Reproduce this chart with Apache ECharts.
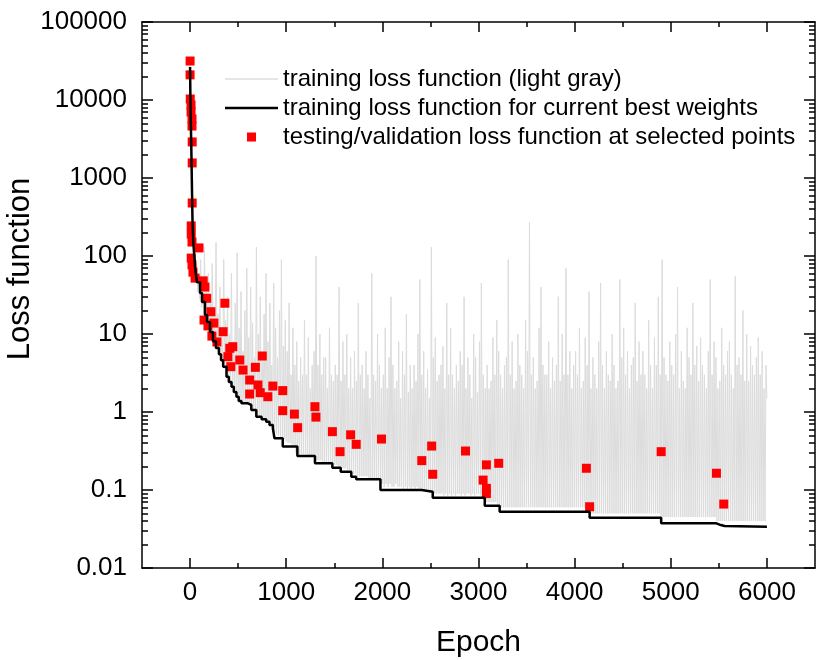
<!DOCTYPE html>
<html>
<head>
<meta charset="utf-8">
<script src="https://cdn.jsdelivr.net/npm/echarts@6/dist/echarts.min.js"></script>
<style>
html,body{margin:0;padding:0;background:#fff;}
#chart{width:817px;height:660px;}
</style>
</head>
<body>
<div id="chart"></div>
<script>
// ---------- data ----------
const xTickLabels = [0, 1000, 2000, 3000, 4000, 5000, 6000];
const xMinorTicks = [500, 1500, 2500, 3500, 4500, 5500];
const yTickLabels = [0.01, 0.1, 1, 10, 100, 1000, 10000, 100000];

// training loss (light gray), sampled every 10 epochs from 0 to 6000
const grayStep = 10;
const grayLoss = [
  30000, 8000, 1500, 300, 120, 90, 50, 70, 35, 60,
  28, 90, 22, 45, 18, 130, 15, 35, 13, 60,
  11, 25, 9.5, 80, 8, 20, 7, 150, 6.5, 18,
  5.8, 40, 5, 12, 4.2, 90, 3.6, 15, 3, 30,
  2.6, 10, 2.3, 60, 2.1, 8, 1.9, 25, 1.7, 110,
  1.5, 12, 1.4, 35, 1.35, 6, 1.3, 20, 1.3, 70,
  1.25, 9, 1.2, 40, 1.1, 14, 1.0, 5, 0.95, 130,
  0.9, 10, 0.88, 30, 0.85, 6, 0.8, 18, 0.8, 60,
  0.78, 8, 0.72, 25, 0.7, 4, 0.65, 45, 0.55, 12,
  0.52, 5, 0.5, 20, 0.48, 90, 0.46, 7, 0.45, 15,
  0.42, 6, 0.4, 25, 0.4, 3, 0.38, 12, 0.38, 4,
  0.3, 8, 0.3, 2.5, 0.29, 5, 0.29, 3, 0.29, 15,
  0.29, 3, 0.28, 9, 0.28, 2, 0.28, 4, 0.28, 6,
  0.25, 100, 0.24, 4, 0.24, 10, 0.24, 3, 0.23, 5,
  0.23, 5, 0.23, 2, 0.23, 12, 0.22, 3, 0.22, 2.5,
  0.21, 4, 0.21, 3, 0.2, 40, 0.2, 2.5, 0.19, 8,
  0.19, 3, 0.19, 10, 0.18, 2, 0.18, 5, 0.17, 2,
  0.16, 6, 0.16, 2.5, 0.15, 25, 0.15, 3, 0.15, 4,
  0.15, 2, 0.15, 6, 0.15, 3, 0.14, 1.5, 0.14, 60,
  0.14, 3, 0.14, 2.5, 0.14, 10, 0.14, 4, 0.14, 2,
  0.12, 3, 0.11, 12, 0.12, 2, 0.11, 5, 0.12, 30,
  0.11, 4, 0.11, 2, 0.12, 2.5, 0.11, 8, 0.11, 1.5,
  0.11, 6, 0.1, 3, 0.11, 18, 0.1, 1.8, 0.11, 4,
  0.1, 2, 0.11, 4, 0.1, 2.5, 0.11, 10, 0.1, 50,
  0.1, 3, 0.1, 6, 0.1, 2, 0.1, 3.5, 0.1, 1.5,
  0.1, 130, 0.09, 5, 0.09, 9, 0.09, 2.5, 0.09, 3,
  0.09, 4, 0.09, 7, 0.085, 2, 0.09, 25, 0.085, 3,
  0.09, 12, 0.085, 3, 0.09, 2, 0.085, 4, 0.09, 2.5,
  0.09, 6, 0.085, 4, 0.09, 30, 0.085, 2, 0.09, 5,
  0.09, 3, 0.085, 1.5, 0.09, 10, 0.085, 5, 0.09, 1.8,
  0.09, 8, 0.085, 45, 0.085, 3, 0.08, 2, 0.07, 4,
  0.07, 2, 0.07, 2.5, 0.07, 9, 0.07, 3, 0.07, 15,
  0.065, 6, 0.06, 3, 0.06, 2, 0.06, 4, 0.06, 5,
  0.06, 90, 0.06, 3, 0.06, 8, 0.06, 2, 0.06, 2.5,
  0.06, 10, 0.06, 4, 0.06, 3, 0.06, 2, 0.06, 15,
  0.06, 6, 0.06, 270, 0.06, 3, 0.06, 5, 0.06, 2,
  0.06, 2.5, 0.06, 12, 0.06, 40, 0.06, 4, 0.06, 3,
  0.06, 3, 0.06, 8, 0.06, 2, 0.06, 5, 0.06, 2.5,
  0.06, 4, 0.06, 30, 0.06, 2.5, 0.06, 10, 0.06, 3,
  0.06, 70, 0.06, 3, 0.06, 6, 0.06, 2, 0.06, 4,
  0.06, 6, 0.06, 3, 0.06, 12, 0.06, 2, 0.06, 2.5,
  0.06, 9, 0.055, 4, 0.055, 35, 0.05, 2, 0.05, 5,
  0.05, 3, 0.05, 2, 0.05, 8, 0.05, 45, 0.05, 4,
  0.05, 2, 0.05, 6, 0.05, 3, 0.05, 2.5, 0.05, 10,
  0.05, 4, 0.05, 2, 0.05, 2.5, 0.05, 50, 0.05, 5,
  0.05, 12, 0.05, 3, 0.05, 6, 0.05, 2, 0.05, 4,
  0.05, 5, 0.05, 25, 0.05, 2.5, 0.05, 8, 0.05, 3,
  0.05, 6, 0.05, 3, 0.05, 2, 0.05, 15, 0.05, 4,
  0.05, 2, 0.05, 9, 0.05, 4, 0.05, 30, 0.05, 3,
  0.045, 90, 0.045, 5, 0.045, 3, 0.045, 2.5, 0.045, 8,
  0.045, 4, 0.045, 3, 0.045, 10, 0.045, 40, 0.045, 2,
  0.045, 6, 0.045, 2.5, 0.045, 2, 0.045, 12, 0.045, 5,
  0.045, 3, 0.045, 25, 0.045, 4, 0.045, 7, 0.045, 2.5,
  0.045, 9, 0.045, 4, 0.045, 3, 0.045, 2, 0.045, 6,
  0.045, 50, 0.045, 3, 0.045, 8, 0.045, 5, 0.04, 2,
  0.04, 2.5, 0.04, 12, 0.04, 4, 0.04, 3, 0.04, 6,
  0.04, 8, 0.04, 3, 0.04, 2, 0.04, 55, 0.04, 4,
  0.04, 5, 0.04, 3, 0.04, 20, 0.04, 2.5, 0.04, 10,
  0.04, 2.5, 0.04, 7, 0.04, 4, 0.04, 3, 0.04, 5,
  0.04, 9, 0.04, 3, 0.04, 6, 0.04, 2, 0.04, 4,
  1.5
];

// training loss for current best weights (step function: epoch where value starts)
const bestEpochs = [0, 4, 12, 25, 34, 52, 62, 72, 103, 124, 155, 176, 207, 238, 269, 300, 322, 344, 379, 403, 431, 455, 482, 506, 534, 602, 637, 689, 744, 792, 826, 861, 878, 964, 1116, 1299, 1480, 1567, 1677, 1728, 1980, 2410, 2524, 3065, 3220, 4156, 4900, 5475, 5520, 5560, 6000];
const bestLoss   = [26500, 9200, 2800, 290, 147, 73, 57, 46, 33.6, 25.7, 17.5, 14.3, 10.6, 8.1, 6.6, 5.5, 4.6, 3.8, 2.84, 2.43, 2.11, 1.8, 1.57, 1.38, 1.29, 1.23, 1.06, 0.87, 0.81, 0.75, 0.68, 0.62, 0.46, 0.36, 0.273, 0.22, 0.193, 0.172, 0.148, 0.137, 0.1, 0.095, 0.0796, 0.063, 0.0527, 0.0442, 0.0374, 0.0355, 0.0345, 0.0339, 0.0339];

// testing / validation loss at selected points
const testEpochs = [0, 0, 2, 10, 10, 20, 20, 22, 22, 22, 12, 12, 20, 93, 12, 20, 30, 52, 137, 155, 173, 217, 362, 145, 186, 248, 344, 227, 279, 413, 444, 517, 393, 751, 424, 551, 679, 620, 706, 861, 964, 620, 730, 809, 964, 1085, 1119, 1299, 1309, 1480, 1560, 1670, 1728, 1991, 2410, 2513, 2524, 2865, 3048, 3082, 3082, 3082, 3210, 4122, 4156, 4900, 5475, 5551];
const testLoss   = [31600, 21000, 10300, 8630, 7020, 5710, 4640, 2900, 1560, 478, 243, 191, 151, 127, 94, 77, 62, 52, 48, 40, 28.7, 19.3, 24.8, 15.1, 12.7, 13.8, 10.7, 9.4, 7.9, 6.56, 6.87, 4.64, 5.12, 5.22, 3.81, 3.45, 3.74, 2.57, 2.22, 2.15, 1.88, 1.70, 1.77, 1.57, 1.04, 0.94, 0.63, 1.17, 0.86, 0.56, 0.31, 0.51, 0.385, 0.45, 0.238, 0.366, 0.159, 0.316, 0.134, 0.21, 0.105, 0.09, 0.22, 0.19, 0.061, 0.31, 0.164, 0.066];

// ---------- chart ----------
const FONT = 'Liberation Sans, Arial, sans-serif';
const yMinorTicks = [];
[0.01, 0.1, 1, 10, 100, 1000, 10000].forEach(d => {
  for (let k = 2; k <= 9; k++) yMinorTicks.push(Number((d * k).toPrecision(6)));
});

const axLine = { color: '#000', width: 1.5 };

function xAx(pos, ticks, len, showLine, labels, extra) {
  return Object.assign({
    type: 'value', position: pos, min: -500, max: 6500,
    axisLine: { show: showLine, onZero: false, lineStyle: axLine },
    axisTick: { show: true, inside: true, length: len, customValues: ticks, lineStyle: axLine },
    axisLabel: labels ? {
      show: true, customValues: labels, margin: 12,
      fontFamily: FONT, fontSize: 26, color: '#000',
      formatter: v => String(v)
    } : { show: false },
    splitLine: { show: false }
  }, extra || {});
}
function yAx(pos, ticks, len, showLine, labels, extra) {
  return Object.assign({
    type: 'log', logBase: 10, position: pos, min: 0.01, max: 100000,
    axisLine: { show: showLine, onZero: false, lineStyle: axLine },
    axisTick: { show: true, inside: true, length: len, customValues: ticks, lineStyle: axLine },
    axisLabel: labels ? {
      show: true, customValues: labels, margin: 15,
      fontFamily: FONT, fontSize: 26, color: '#000',
      formatter: v => String(Number(Number(v).toPrecision(6)))
    } : { show: false },
    splitLine: { show: false }
  }, extra || {});
}

const chart = echarts.init(document.getElementById('chart'), null, { renderer: 'canvas' });
chart.setOption({
  animation: false,
  backgroundColor: '#fff',
  grid: { left: 142, right: 2, top: 22, bottom: 92, containLabel: false, outerBoundsMode: 'none' },
  legend: {
    orient: 'vertical', left: 220, top: 62, itemGap: 5,
    itemWidth: 53, itemHeight: 9, symbolKeepAspect: true,
    textStyle: { fontFamily: FONT, fontSize: 24, color: '#000' },
    data: [
      { name: 'training loss function (light gray)', icon: 'path://M0,0L53,0L53,1.5L0,1.5Z' },
      { name: 'training loss function for current best weights', icon: 'path://M0,0L53,0L53,2.5L0,2.5Z' },
      { name: 'testing/validation loss function at selected points', icon: 'path://M0,0L9,0L9,9L0,9Z' }
    ]
  },
  xAxis: [
    xAx('bottom', xTickLabels, 10, true, xTickLabels, {
      name: 'Epoch', nameLocation: 'middle', nameGap: 60, nameMoveOverlap: false,
      nameTextStyle: { fontFamily: FONT, fontSize: 30, color: '#000' }
    }),
    xAx('bottom', xMinorTicks, 5, false, null),
    xAx('top', xTickLabels, 10, true, null),
    xAx('top', xMinorTicks, 5, false, null)
  ],
  yAxis: [
    yAx('left', yTickLabels, 11, true, yTickLabels, {
      name: 'Loss function', nameLocation: 'middle', nameGap: 106, nameRotate: 90,
      nameMoveOverlap: false,
      nameTextStyle: { fontFamily: FONT, fontSize: 31, color: '#000', padding: [0, 0, 0, 52] }
    }),
    yAx('left', yMinorTicks, 6, false, null),
    yAx('right', yTickLabels, 11, true, null),
    yAx('right', yMinorTicks, 6, false, null)
  ],
  series: [
    {
      name: 'training loss function (light gray)', type: 'line',
      xAxisIndex: 0, yAxisIndex: 0,
      data: grayLoss.map((v, i) => [i * grayStep, v]),
      showSymbol: false, symbol: 'none',
      lineStyle: { color: '#dcdcdc', width: 1 },
      itemStyle: { color: '#dcdcdc' }, z: 1
    },
    {
      name: 'testing/validation loss function at selected points', type: 'scatter',
      xAxisIndex: 0, yAxisIndex: 0,
      data: testEpochs.map((e, i) => [e, testLoss[i]]),
      symbol: 'rect', symbolSize: 9,
      itemStyle: { color: '#ff0000', opacity: 1 }, z: 2
    },
    {
      name: 'training loss function for current best weights', type: 'line',
      xAxisIndex: 0, yAxisIndex: 0, step: 'end',
      data: bestEpochs.map((e, i) => [e, bestLoss[i]]),
      showSymbol: false, symbol: 'none',
      lineStyle: { color: '#000', width: 2.5 },
      itemStyle: { color: '#000' }, z: 3
    }
  ]
});
</script>
</body>
</html>
